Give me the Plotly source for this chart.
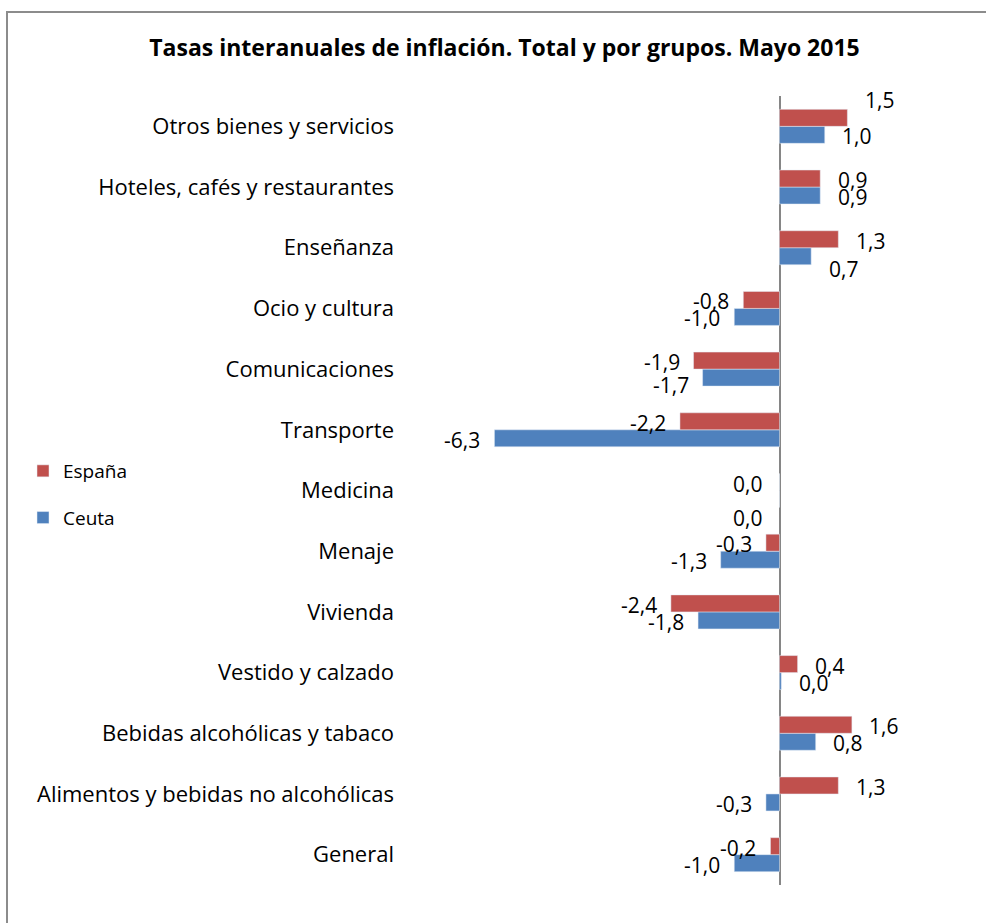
import plotly.graph_objects as go

categories = [
    "General",
    "Alimentos y bebidas no alcohólicas",
    "Bebidas alcohólicas y tabaco",
    "Vestido y calzado",
    "Vivienda",
    "Menaje",
    "Medicina",
    "Transporte",
    "Comunicaciones",
    "Ocio y cultura",
    "Enseñanza",
    "Hoteles, cafés y restaurantes",
    "Otros bienes y servicios",
]
espana = [-0.2, 1.3, 1.6, 0.4, -2.4, -0.3, 0.0, -2.2, -1.9, -0.8, 1.3, 0.9, 1.5]
ceuta = [-1.0, -0.3, 0.8, 0.04, -1.8, -1.3, 0.0, -6.3, -1.7, -1.0, 0.7, 0.9, 1.0]

title = "Tasas interanuales de inflación. Total y por grupos. Mayo 2015"
RED = "#C0504D"
BLUE = "#4F81BD"
FONT = "Open Sans"

# label nudges (pixels, positive = downward) to mimic overlap avoidance
nudge_es = {"Otros bienes y servicios": -19}
nudge_ce = {"Enseñanza": 11, "Comunicaciones": 6, "Medicina": 17}

fig = go.Figure()
fig.add_trace(go.Bar(y=categories, x=ceuta, name="Ceuta", orientation="h",
                     marker_color=BLUE, legendrank=2, legendgroup="c"))
fig.add_trace(go.Bar(y=categories, x=espana, name="España", orientation="h",
                     marker_color=RED, legendrank=1, legendgroup="e"))

BAR_OFF = 8.5
DX = 32
ann = []
def fmt(v):
    return f"{v:.1f}".replace(".", ",").replace("-0,0", "0,0")
for cat, e, c in zip(categories, espana, ceuta):
    for v, base, nd in ((e, BAR_OFF, nudge_es.get(cat, 0)), (c, -BAR_OFF, nudge_ce.get(cat, 0))):
        ann.append(dict(x=v, y=cat, xref="x", yref="y", text=fmt(v), showarrow=False,
                        xanchor="center", yanchor="middle",
                        xshift=DX if v > 0 else -DX, yshift=base - 1.5 - nd,
                        font=dict(family=FONT, size=21, color="#000")))

fig.update_layout(
    width=986, height=923,
    paper_bgcolor="white", plot_bgcolor="white",
    barmode="group", bargap=0.44, bargroupgap=0,
    margin=dict(l=400, r=26, t=96, b=38),
    title=dict(text="<b>" + title + "</b>", x=504.5 / 986, xref="container", xanchor="center",
               y=1 - 48 / 923, yref="container", yanchor="middle",
               font=dict(family=FONT, size=23, color="#000")),
    xaxis=dict(range=[(400 - 779.5) / 45.25, (960 - 779.5) / 45.25], showticklabels=False,
               showgrid=False, zeroline=True, zerolinecolor="#868686", zerolinewidth=2,
               ticks="", showline=False),
    yaxis=dict(type="category", range=[-0.5, len(categories) - 0.5], showgrid=False,
               ticks="", showline=False, ticklabelstandoff=5,
               tickfont=dict(family=FONT, size=22, color="#000")),
    legend=dict(x=(23 - 400) / 560, y=(885 - 452) / 789, xanchor="left", yanchor="top",
                traceorder="grouped", tracegroupgap=19, itemwidth=30,
                font=dict(family=FONT, size=19, color="#000"), bgcolor="rgba(0,0,0,0)"),
    annotations=ann,
    shapes=[dict(type="rect", xref="paper", yref="paper",
                 x0=(7 - 400) / 560, x1=(1010 - 400) / 560,
                 y0=(885 - 950) / 789, y1=(885 - 12) / 789,
                 line=dict(color="#8C8C8C", width=2), fillcolor="rgba(0,0,0,0)", layer="below")],
)
fig.write_html("out.html", config={"displayModeBar": False},
               post_script="document.body.style.margin='0';document.body.style.overflow='hidden';")
